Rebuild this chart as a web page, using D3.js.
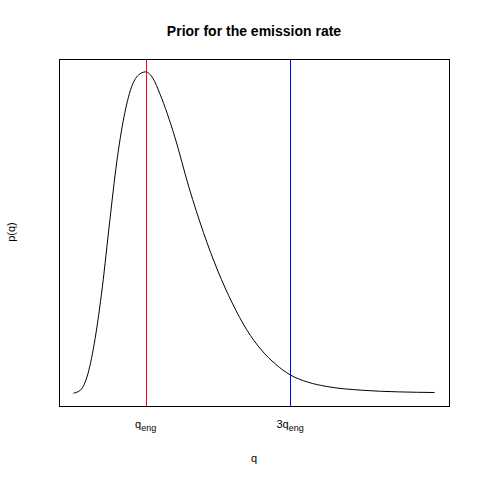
<!DOCTYPE html>
<html><head><meta charset="utf-8">
<script src="https://cdn.jsdelivr.net/npm/d3@7"></script>
<style>body{margin:0;background:#fff}text{font-family:"Liberation Sans",Arial,sans-serif}</style>
</head><body><div id="chart"></div>
<script>
// values (q in units of q_eng, p normalised to peak)
var qs = [0, 0.1, 0.2, 0.3, 0.4, 0.5, 0.6, 0.7, 0.8, 0.9, 1.0, 1.1, 1.2, 1.4, 1.6, 1.8, 2.0, 2.2, 2.4, 2.6, 2.8, 3.0, 3.25, 3.5, 4.0, 4.5, 5.0];
var ps = [0, 0.01, 0.06, 0.17, 0.33, 0.53, 0.72, 0.86, 0.95, 0.99, 1.0, 0.98, 0.93, 0.80, 0.64, 0.50, 0.38, 0.28, 0.197, 0.135, 0.09, 0.057, 0.034, 0.021, 0.009, 0.004, 0.002];
var tickVals = [1, 3];
var tickNames = ["", "3"];

var w = 480, h = 480;
var svg = d3.select("#chart").append("svg").attr("width", w).attr("height", h);

var x = d3.scaleLinear().domain([-0.2, 5.2]).range([59, 449]);
var y = d3.scaleLinear().domain([-0.04, 1.04]).range([406, 59]);

svg.append("rect").attr("x", 59.5).attr("y", 59.5).attr("width", 390).attr("height", 347)
  .attr("fill", "none").attr("stroke", "#000");

var pts = qs.map(function(q, i) { return [q, ps[i]]; });
svg.append("path").datum(pts)
  .attr("d", d3.line().x(function(d){return x(d[0]);}).y(function(d){return y(d[1]);}).curve(d3.curveMonotoneX))
  .attr("fill", "none").attr("stroke", "#000");

svg.append("line").attr("x1", Math.round(x(1)) + 0.5).attr("x2", Math.round(x(1)) + 0.5).attr("y1", 59).attr("y2", 406).attr("stroke", "#ff0000");
svg.append("line").attr("x1", Math.round(x(3)) + 0.5).attr("x2", Math.round(x(3)) + 0.5).attr("y1", 59).attr("y2", 406).attr("stroke", "#0000ff");

tickVals.forEach(function(v, i) {
  var t = svg.append("text").attr("x", x(v)).attr("y", 428).attr("text-anchor", "middle").attr("font-size", 11);
  t.append("tspan").text(tickNames[i] + "q");
  t.append("tspan").attr("font-size", 9).attr("dy", 3).text("eng");
});

svg.append("text").attr("x", 254).attr("y", 36).attr("text-anchor", "middle")
  .attr("font-size", 14).attr("font-weight", "bold").text("Prior for the emission rate");
svg.append("text").attr("x", 254).attr("y", 462).attr("text-anchor", "middle").attr("font-size", 11).text("q");
svg.append("text").attr("transform", "translate(15,232) rotate(-90)").attr("text-anchor", "middle")
  .attr("font-size", 11).text("p(q)");
</script></body></html>
